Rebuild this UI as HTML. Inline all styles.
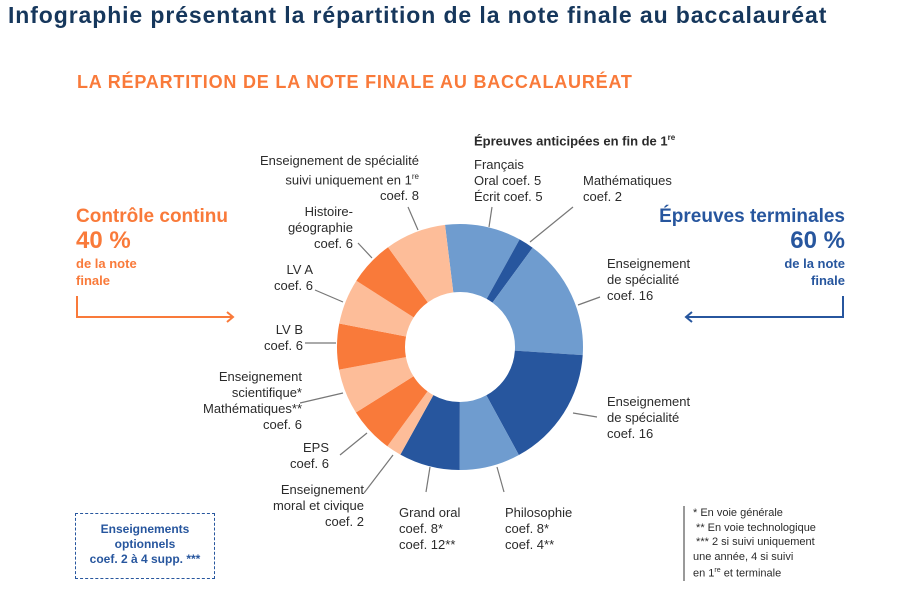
<!DOCTYPE html>
<html><head><meta charset="utf-8">
<style>
body{margin:0;width:915px;height:592px;background:#fff;position:relative;overflow:hidden;font-family:"Liberation Sans","DejaVu Sans",sans-serif;}
.a{position:absolute;white-space:nowrap;}
.l{font-size:13px;color:#2b2b2b;line-height:16px;}
.r{text-align:right;}
</style></head><body>
<div class="a" style="left:8px;top:2px;font-size:23px;letter-spacing:0.9px;font-weight:bold;color:#16375c;">Infographie présentant la répartition de la note finale au baccalauréat</div>
<div class="a" style="left:77px;top:72px;font-size:18px;letter-spacing:0.8px;font-weight:bold;color:#f97a3a;">LA RÉPARTITION DE LA NOTE FINALE AU BACCALAURÉAT</div>

<div class="a" style="left:76px;top:206px;color:#f97a3a;font-weight:bold;font-size:19px;line-height:22px;">Contrôle continu<br><span style="font-size:24px;line-height:26px">40 %</span></div>
<div class="a" style="left:76px;top:255px;color:#f97a3a;font-weight:bold;font-size:13px;line-height:17px;">de la note<br>finale</div>
<div class="a r" style="right:70px;top:206px;color:#27569e;font-weight:bold;font-size:19px;line-height:22px;">Épreuves terminales<br><span style="font-size:24px;line-height:26px">60 %</span></div>
<div class="a r" style="right:70px;top:255px;color:#27569e;font-weight:bold;font-size:13px;line-height:17px;">de la note<br>finale</div>

<div class="a l" style="left:474px;top:130px;font-weight:bold;">Épreuves anticipées en fin de 1<sup style="font-size:8px">re</sup></div>
<div class="a l r" style="right:496px;top:153px;">Enseignement de spécialité<br>suivi uniquement en 1<sup style="font-size:8px">re</sup><br>coef. 8</div>
<div class="a l" style="left:474px;top:157px;">Français<br>Oral coef. 5<br>Écrit coef. 5</div>
<div class="a l" style="left:583px;top:173px;">Mathématiques<br>coef. 2</div>
<div class="a l r" style="right:562px;top:204px;">Histoire-<br>géographie<br>coef. 6</div>
<div class="a l r" style="right:602px;top:262px;">LV A<br>coef. 6</div>
<div class="a l r" style="right:612px;top:322px;">LV B<br>coef. 6</div>
<div class="a l r" style="right:613px;top:369px;">Enseignement<br>scientifique*<br>Mathématiques**<br>coef. 6</div>
<div class="a l r" style="right:586px;top:440px;">EPS<br>coef. 6</div>
<div class="a l r" style="right:551px;top:482px;">Enseignement<br>moral et civique<br>coef. 2</div>
<div class="a l" style="left:399px;top:505px;">Grand oral<br>coef. 8*<br>coef. 12**</div>
<div class="a l" style="left:505px;top:505px;">Philosophie<br>coef. 8*<br>coef. 4**</div>
<div class="a l" style="left:607px;top:256px;">Enseignement<br>de spécialité<br>coef. 16</div>
<div class="a l" style="left:607px;top:394px;">Enseignement<br>de spécialité<br>coef. 16</div>

<div class="a" style="left:75px;top:513px;width:140px;height:66px;border:1.5px dashed #27569e;box-sizing:border-box;"></div>
<div class="a" style="left:78px;top:522px;width:134px;text-align:center;color:#27569e;font-weight:bold;font-size:12px;line-height:15px;">Enseignements<br>optionnels<br>coef. 2 à 4 supp. ***</div>

<div class="a" style="left:683px;top:506px;width:2px;height:75px;background:#999;"></div>
<div class="a" style="left:693px;top:506px;font-size:11px;line-height:14.5px;color:#2b2b2b;">* En voie générale<br>&nbsp;** En voie technologique<br>&nbsp;*** 2 si suivi uniquement<br>une année, 4 si suivi<br>en 1<sup style="font-size:7px">re</sup> et terminale</div>

<svg class="a" style="left:0;top:0" width="915" height="592" id="s">
<g stroke="#777" stroke-width="1.2" fill="none">
<line x1="408" y1="207" x2="418" y2="230"/>
<line x1="492" y1="207" x2="489" y2="227"/>
<line x1="573" y1="207" x2="530" y2="242"/>
<line x1="600" y1="297" x2="578" y2="305"/>
<line x1="573" y1="413" x2="597" y2="417"/>
<line x1="497" y1="467" x2="504" y2="492"/>
<line x1="430" y1="467" x2="426" y2="492"/>
<line x1="393" y1="455" x2="364" y2="493"/>
<line x1="367" y1="433" x2="340" y2="455"/>
<line x1="343" y1="393" x2="300" y2="403"/>
<line x1="336" y1="343" x2="305" y2="343"/>
<line x1="343" y1="302" x2="315" y2="290"/>
<line x1="372" y1="258" x2="358" y2="243"/>
</g>
<g stroke-width="2" fill="none" stroke="#f97a3a"><polyline points="77,296 77,317 233,317"/><polyline points="227,312 233,317 227,322"/></g>
<g stroke-width="2" fill="none" stroke="#27569e"><polyline points="843,296 843,317 686,317"/><polyline points="692,312 686,317 692,322"/></g>
<g id="d"></g>
</svg>
<script>
var segs=[[10,"#6f9ccf"],[2,"#27569e"],[16,"#6f9ccf"],[16,"#27569e"],[8,"#6f9ccf"],[8,"#27569e"],[2,"#fdbd99"],[6,"#f97a3a"],[6,"#fdbd99"],[6,"#f97a3a"],[6,"#fdbd99"],[6,"#f97a3a"],[8,"#fdbd99"]];
var cx=460,cy=347,R=123,r=55,a=-7,h="";
function p(rad,ang){var t=(ang-90)*Math.PI/180;return (cx+rad*Math.cos(t)).toFixed(2)+","+(cy+rad*Math.sin(t)).toFixed(2);}
segs.forEach(function(s){var b=a+s[0]*3.6;var lg=(b-a)>180?1:0;
h+='<path fill="'+s[1]+'" d="M'+p(R,a)+' A'+R+','+R+' 0 '+lg+' 1 '+p(R,b)+' L'+p(r,b)+' A'+r+','+r+' 0 '+lg+' 0 '+p(r,a)+' Z"/>';a=b;});
document.getElementById("d").innerHTML=h;
</script>
</body></html>
